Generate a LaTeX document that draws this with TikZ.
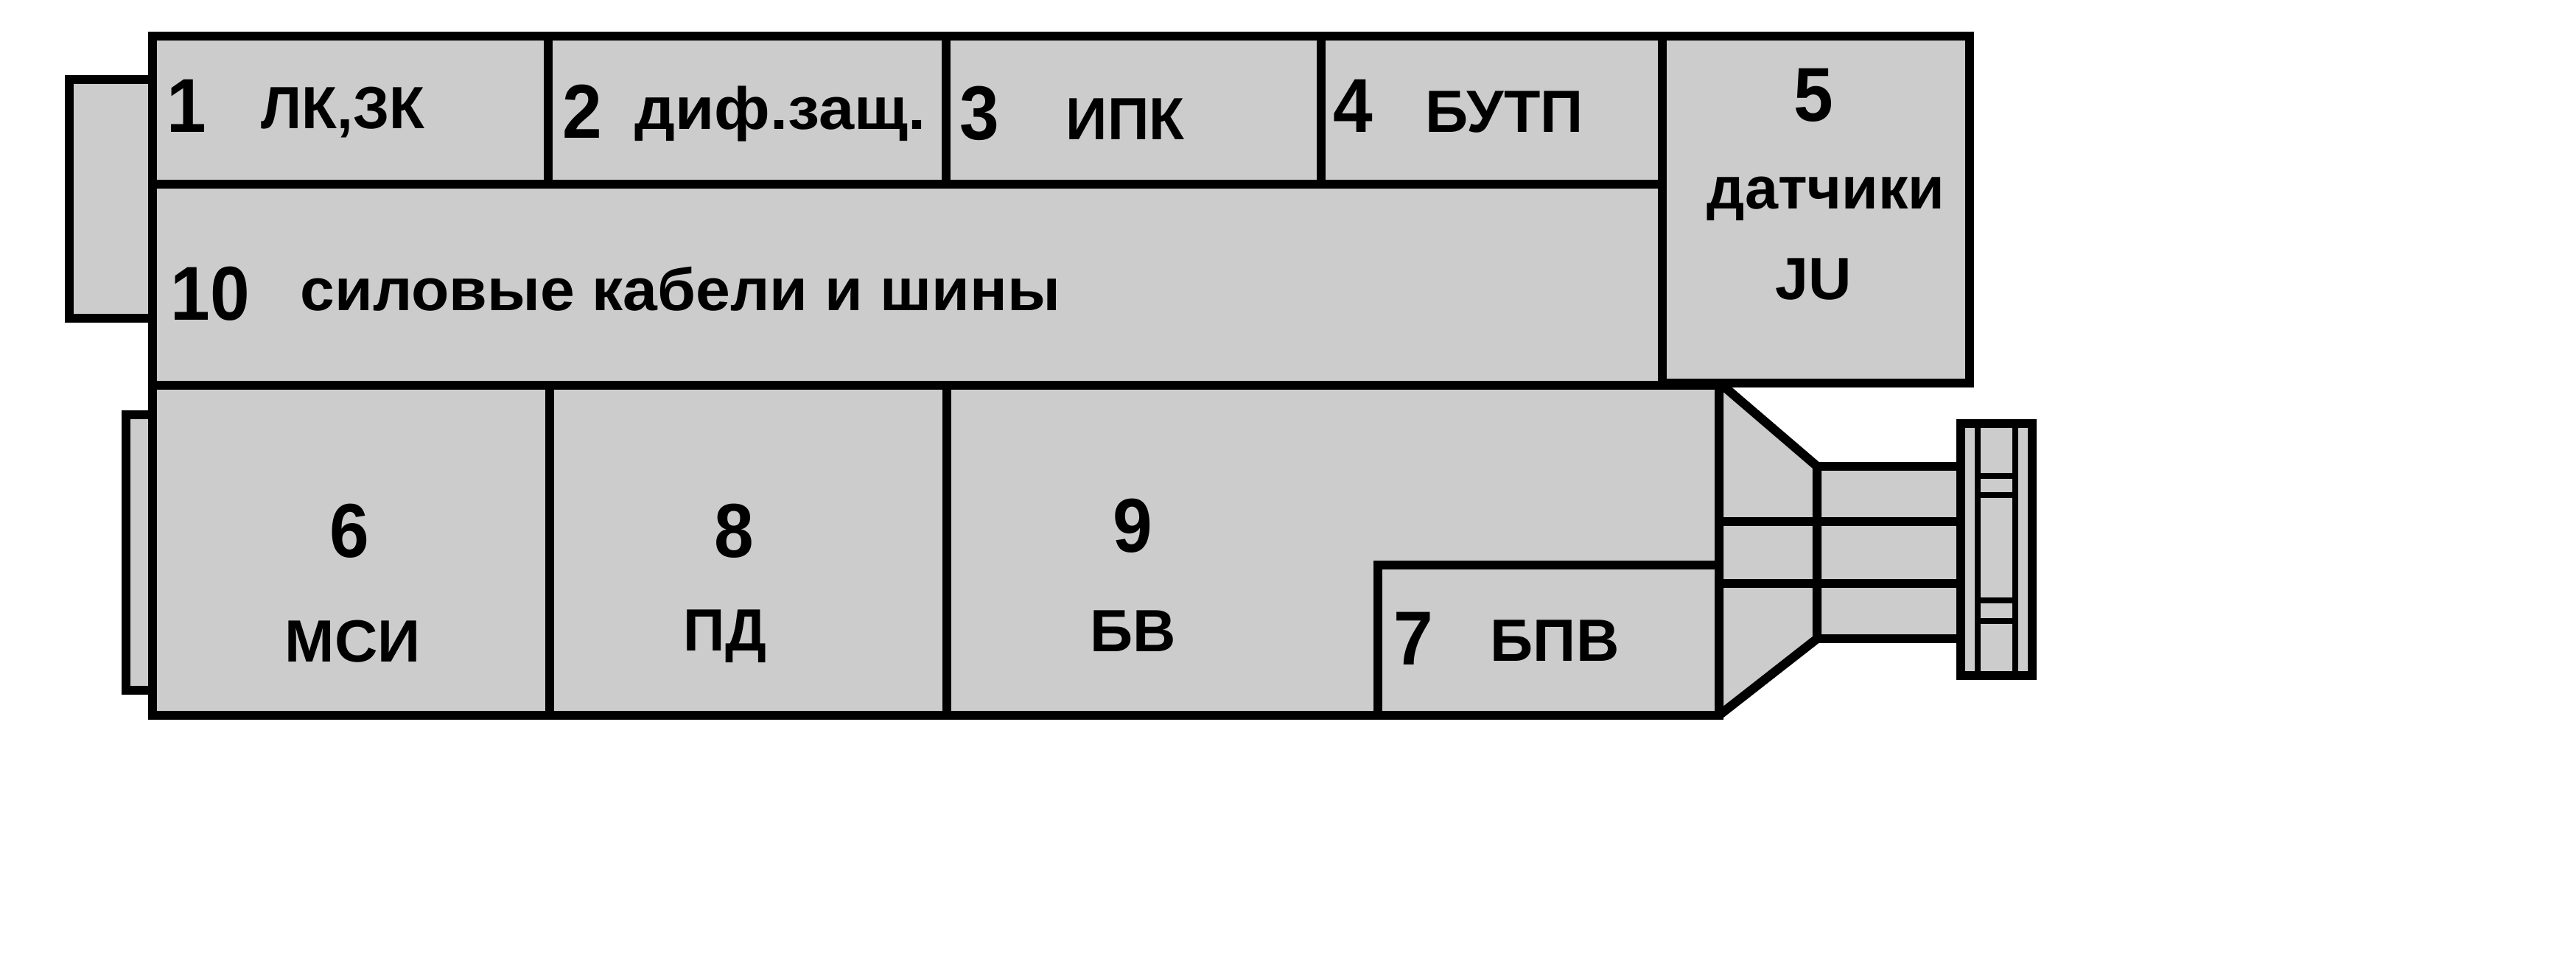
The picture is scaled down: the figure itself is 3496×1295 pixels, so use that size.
\documentclass[tikz,border=0pt]{standalone}
\usepackage{fontspec}
\setmainfont{Liberation Sans}
\newfontfamily\numfont[FakeStretch=0.93]{Liberation Sans}
\newfontfamily\widefont[FakeStretch=1.04]{Liberation Sans}
\newfontfamily\widerfont[FakeStretch=1.07]{Liberation Sans}
\newfontfamily\narrowfont[FakeStretch=0.97]{Liberation Sans}
\usepackage{tikz}
\definecolor{blockgray}{gray}{0.8}
\tikzset{
block/.style={draw=black, fill=blockgray, line width=3.5pt, line join=miter},
wall/.style={draw=black, line width=3.5pt},
fine wall/.style={draw=black, line width=2.3pt},
num/.style={inner sep=0pt, anchor=base west, font=\fontsize{29.5}{30}\numfont\bfseries},
lbl/.style={inner sep=0pt, anchor=base west, font=\fontsize{23}{24}\selectfont\bfseries},
lbl wide/.style={lbl, font=\fontsize{23}{24}\widefont\bfseries},
lbl wider/.style={lbl, font=\fontsize{23}{24}\widerfont\bfseries},
lbl narrow/.style={lbl, font=\fontsize{23}{24}\narrowfont\bfseries}}
\begin{document}
\begin{tikzpicture}
[x=0.01cm, y=-0.01cm]
\useasboundingbox (0,0) rectangle (3496,1295);
% stubs on the left
\draw[block] (207,108) rectangle (94,432);
\draw[block] (207,563) rectangle (171,937);
% flange and tube on the right
\draw[block] (2466,633) rectangle (2661,867);
\draw[block] (2661,575) rectangle (2758,917);
\draw[fine wall] (2684,575) -- (2684,917);
\draw[fine wall] (2735,575) -- (2735,917);
\draw[fine wall] (2684,646) -- (2735,646);
\draw[fine wall] (2684,672) -- (2735,672);
\draw[fine wall] (2684,815) -- (2735,815);
\draw[fine wall] (2684,843) -- (2735,843);
% cone
\draw[block, line join=bevel] (2333,519) -- (2466,633) -- (2466,867) -- (2333,971) -- cycle;
\draw[wall] (2333,708) -- (2661,708);
\draw[wall] (2333,792) -- (2661,792);
% body
\draw[block] (207,49) rectangle (2256,523);
\draw[block] (2256,49) rectangle (2673,520);
\draw[block] (207,523) rectangle (2333,971);
\draw[block] (1870,767) rectangle (2333,971);
\draw[wall] (207,250) -- (2256,250);
\draw[wall] (744,49) -- (744,250);
\draw[wall] (1284,49) -- (1284,250);
\draw[wall] (1793,49) -- (1793,250);
\draw[wall] (746,523) -- (746,971);
\draw[wall] (1285,523) -- (1285,971);
% texts
\node[num] (n1) at (226,180) {1};
\node[lbl narrow] (t1) at (354,175) {ЛК,ЗК};
\node[num] (n2) at (763,188) {2};
\node[lbl wider] (t2) at (861,176) {диф.защ.};
\node[num] (n3) at (1302,190) {3};
\node[lbl narrow] (t3) at (1446,190) {ИПК};
\node[num] (n4) at (1809,180) {4};
\node[lbl] (t4) at (1934,180) {БУТП};
\node[num] (n5) at (2434,165) {5};
\node[lbl] (t5) at (2316,284) {датчики};
\node[lbl] (u5) at (2409,407) {JU};
\node[num] (n10) at (231,435) {10};
\node[lbl wide] (t10) at (407,422) {силовые кабели и шины};
\node[num] (n6) at (447,757) {6};
\node[lbl] (t6) at (386,899) {МСИ};
\node[num] (n8) at (969,757) {8};
\node[lbl narrow] (t8) at (927,884) {ПД};
\node[num] (n9) at (1510,750) {9};
\node[lbl] (t9) at (1479,885) {БВ};
\node[num] (n7) at (1891,903) {7};
\node[lbl] (t7) at (2022,898) {БПВ};
\end{tikzpicture}
\end{document}
